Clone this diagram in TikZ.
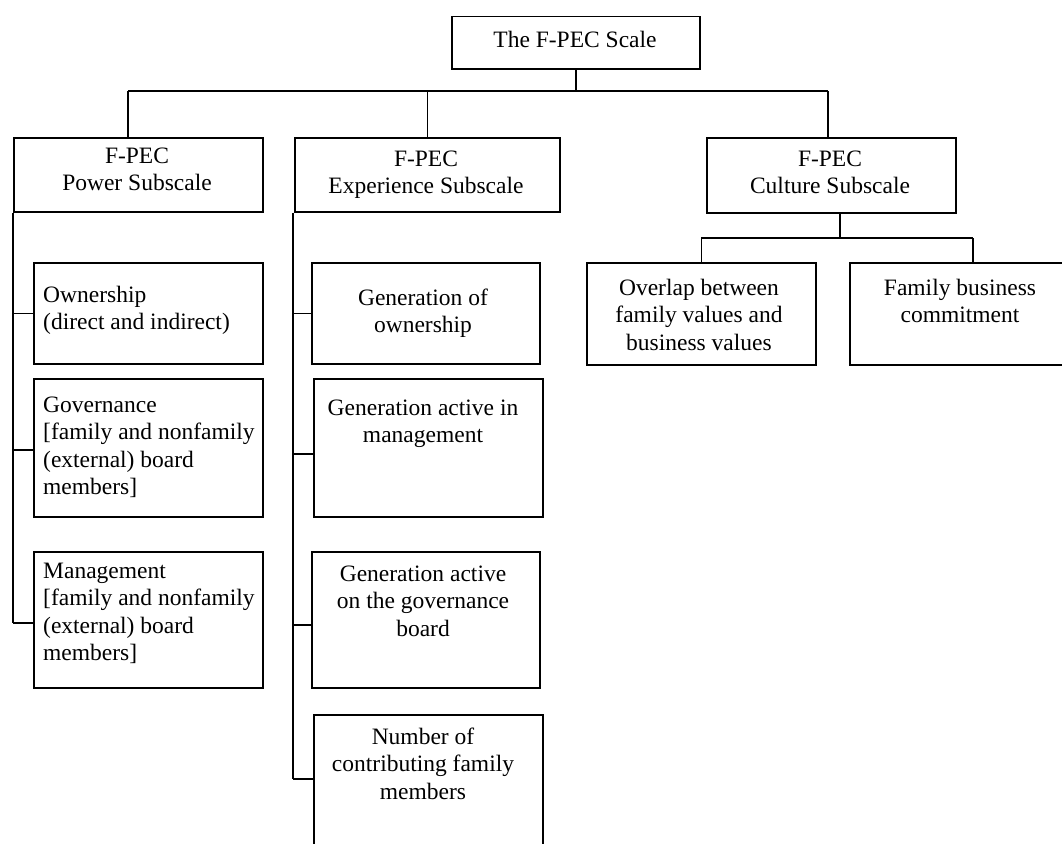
\documentclass[tikz,border=0pt]{standalone}
\usepackage{fontspec}
\setmainfont{Liberation Serif}
\newcommand{\txtl}[2]{\begin{tabular}[t]{@{}#1@{}}#2\end{tabular}}
\begin{document}
\begin{tikzpicture}[x=1pt,y=-1pt,
  box/.style={draw, line width=1.5pt, rectangle, inner sep=0pt, anchor=north west},
  lbl/.style={anchor=base, inner sep=0pt, font=\fontsize{23.5}{27.5}\selectfont},
  lbll/.style={anchor=base west, inner sep=0pt, font=\fontsize{23.5}{27.5}\selectfont},
  conn/.style={line width=1.5pt}]
\useasboundingbox (0,0) rectangle (1062,843);
\clip (0,0) rectangle (1062,843);
\renewcommand{\arraystretch}{1}
% boxes
\node[box, minimum width=248pt, minimum height=52pt] (top) at (451,16) {};
\node[box, minimum width=249pt, minimum height=74pt] (power) at (13,137) {};
\node[box, minimum width=265pt, minimum height=74pt] (exp) at (294,137) {};
\node[box, minimum width=249pt, minimum height=75pt] (cult) at (706,137) {};
\node[box, minimum width=229pt, minimum height=101pt] (own) at (33,262) {};
\node[box, minimum width=229pt, minimum height=138pt] (gov) at (33,378) {};
\node[box, minimum width=229pt, minimum height=136pt] (mgmt) at (33,551) {};
\node[box, minimum width=228pt, minimum height=101pt] (g1) at (311,262) {};
\node[box, minimum width=229pt, minimum height=138pt] (g2) at (313,378) {};
\node[box, minimum width=228pt, minimum height=136pt] (g3) at (311,551) {};
\node[box, minimum width=229pt, minimum height=150pt] (g4) at (313,714) {};
\node[box, minimum width=229pt, minimum height=102pt] (ovl) at (586,262) {};
\node[box, minimum width=226pt, minimum height=102pt] (fam) at (849,262) {};
% texts
\node[lbl] (ttop) at (575,48) {The F-PEC Scale};
\node[lbl] (tpower) at (137,163) {\txtl{c}{F-PEC\\Power Subscale}};
\node[lbl] (texp) at (426,166) {\txtl{c}{F-PEC\\Experience Subscale}};
\node[lbl] (tcult) at (830,166) {\txtl{c}{F-PEC\\Culture Subscale}};
\node[lbll] (town) at (43,302) {\txtl{l}{Ownership\\(direct and indirect)}};
\node[lbll] (tgov) at (43,412) {\txtl{l}{Governance\\{[}family and nonfamily\\(external) board\\members]}};
\node[lbll] (tmgmt) at (43,578) {\txtl{l}{Management\\{[}family and nonfamily\\(external) board\\members]}};
\node[lbl] (tg1) at (423,305) {\txtl{c}{Generation of\\ownership}};
\node[lbl] (tg2) at (423,415) {\txtl{c}{Generation active in\\management}};
\node[lbl] (tg3) at (423,581) {\txtl{c}{Generation active\\on the governance\\board}};
\node[lbl] (tg4) at (423,744) {\txtl{c}{Number of\\contributing family\\members}};
\node[lbl] (tovl) at (699,295) {\txtl{c}{Overlap between\\family values and\\business values}};
\node[lbl] (tfam) at (960,295) {\txtl{c}{Family business\\commitment}};
% connectors
\coordinate (busL) at (128,91);
\coordinate (busR) at (828,91);
\draw[conn] (top.south) -- (top.south |- busL);
\draw[conn] (busL) -- (busR);
\draw[conn] (busL) -- (busL |- power.north);
\draw[conn] (exp.north |- busL) -- (exp.north);
\draw[conn] (busR) -- (busR |- cult.north);
% power spine
\draw[conn] (power.south west) -- ([yshift=-3pt]power.south west |- mgmt.west);
\draw[conn] (power.south west |- own.west) -- (own.west);
\draw[conn] ([yshift=-2pt]power.south west |- gov.west) -- ([yshift=-2pt]gov.west);
\draw[conn] ([yshift=-3pt]power.south west |- mgmt.west) -- ([yshift=-3pt]mgmt.west);
% experience spine
\coordinate (t4) at ([yshift=11pt]g4.west);
\draw[conn] ([xshift=-1pt]exp.south west) -- ([xshift=-1pt]exp.south west |- t4);
\draw[conn] ([xshift=-1pt]exp.south west |- g1.west) -- (g1.west);
\draw[conn] ([xshift=-1pt,yshift=-6pt]exp.south west |- g2.west) -- ([yshift=-6pt]g2.west);
\draw[conn] ([xshift=-1pt,yshift=-5pt]exp.south west |- g3.west) -- ([yshift=-5pt]g3.west);
\draw[conn] ([xshift=-1pt]exp.south west |- t4) -- (t4);
% culture
\coordinate (cj) at (840,238);
\coordinate (sbR) at (973,238);
\draw[conn] (cj |- cult.south) -- (cj);
\draw[conn] (ovl.north |- cj) -- (sbR);
\draw[conn] (ovl.north |- cj) -- (ovl.north);
\draw[conn] (sbR) -- (sbR |- fam.north);
\end{tikzpicture}
\end{document}
